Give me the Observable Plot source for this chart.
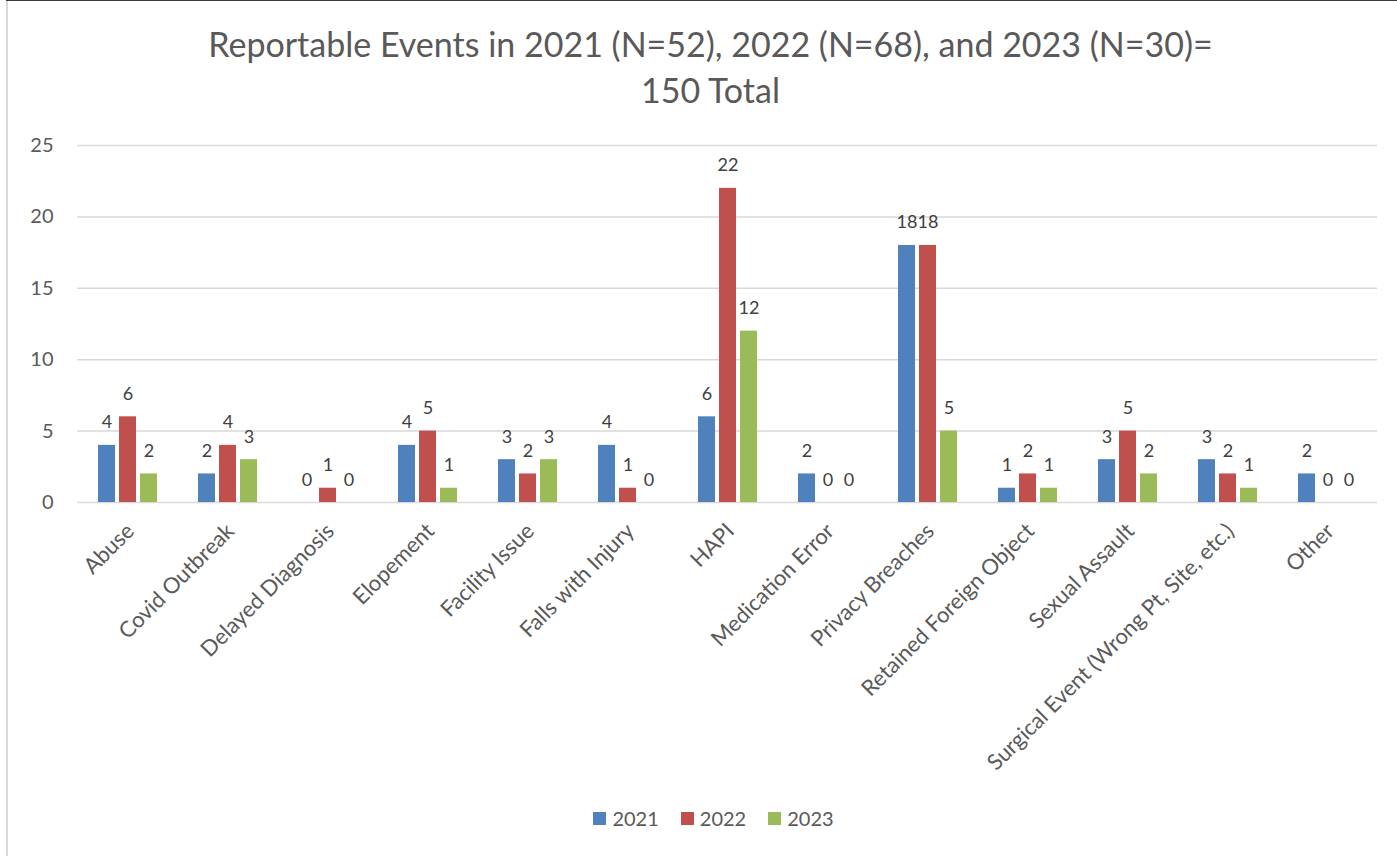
<!DOCTYPE html>
<html>
<head>
<meta charset="utf-8">
<script src="https://cdn.jsdelivr.net/npm/d3@7"></script>
<script src="https://cdn.jsdelivr.net/npm/@observablehq/plot@0.6"></script>
<style>
  html, body { margin: 0; padding: 0; background: #fff; }
  #wrap { position: relative; width: 1397px; height: 856px; overflow: hidden; font-family: Lato, "Open Sans", sans-serif; }
  #leftline { position: absolute; left: 6px; top: 0; width: 2px; height: 856px; background: #d9d9d9; }
  #topline { position: absolute; left: 6px; top: 0; right: 0; height: 1px; background: #3a3a3a; }
  #title { position: absolute; left: 24px; right: 0; top: 21px; text-align: center; font-size: 34px; line-height: 46px; color: #595959; }
  #chart { position: absolute; left: 0; top: 120px; }
  #legend { position: absolute; left: 30px; right: 0; top: 806px; display: flex; justify-content: center; align-items: center; font-size: 20px; color: #595959; }
  .item { display: flex; align-items: center; margin: 0 11px; }
  .sw { width: 13px; height: 13px; margin-right: 6px; }
</style>
</head>
<body>
<div id="wrap">
  <div id="leftline"></div>
  <div id="topline"></div>
  <div id="title"></div>
  <div id="chart"></div>
  <div id="legend"></div>
</div>
<script>
const titleLines = ["Reportable Events in 2021 (N=52), 2022 (N=68), and 2023 (N=30)=", "150 Total"];
const categories = ["Abuse", "Covid Outbreak", "Delayed Diagnosis", "Elopement", "Facility Issue", "Falls with Injury", "HAPI", "Medication Error", "Privacy Breaches", "Retained Foreign Object", "Sexual Assault", "Surgical Event (Wrong Pt, Site, etc.)", "Other"];
const years = ["2021", "2022", "2023"];
const v2021 = [4, 2, 0, 4, 3, 4, 6, 2, 18, 1, 3, 3, 2];
const v2022 = [6, 4, 1, 5, 2, 1, 22, 0, 18, 2, 5, 2, 0];
const v2023 = [2, 3, 0, 1, 3, 0, 12, 0, 5, 1, 2, 1, 0];
const colors = ["#4F81BD", "#C0504D", "#9BBB59"];
const yTicks = [0, 5, 10, 15, 20, 25];

const series = [v2021, v2022, v2023];
const data = [];
categories.forEach((c, i) => {
  years.forEach((y, j) => data.push({cat: c, year: y, value: series[j][i]}));
});

document.getElementById("title").innerHTML = titleLines.map(t => `<div>${t}</div>`).join("");

const chart = Plot.plot({
  width: 1397,
  height: 670,
  marginTop: 25,
  marginBottom: 288,
  marginLeft: 71,
  marginRight: 14,
  style: {fontFamily: "Lato, 'Open Sans', sans-serif", fontSize: "17px", color: "#595959", background: "transparent"},
  fx: {domain: categories, padding: 0, label: null, axis: null},
  x: {domain: years, paddingInner: 0.2, paddingOuter: 0.89, axis: null},
  y: {domain: [0, 25], ticks: yTicks, label: null, axis: null},
  color: {domain: years, range: colors},
  marks: [
    Plot.gridY(yTicks, {stroke: "#d9d9d9", strokeOpacity: 1, strokeWidth: 1.5}),
    Plot.axisY(yTicks, {tickSize: 0, tickPadding: 24, fontSize: 20, fill: "#595959", label: null}),
    Plot.axisFx({anchor: "bottom", tickSize: 0, tickRotate: -45, tickPadding: 10, textAnchor: "end", fontSize: 22, fill: "#595959", label: null, dx: 3, dy: 15}),
    Plot.barY(data, {fx: "cat", x: "year", y: "value", fill: "year"}),
    Plot.text(data, {fx: "cat", x: "year", y: "value", text: d => String(d.value), dy: -17, lineAnchor: "bottom", fontSize: 18, fill: "#404040"})
  ]
});
document.getElementById("chart").appendChild(chart);

const legend = document.getElementById("legend");
years.forEach((y, i) => {
  const item = document.createElement("div");
  item.className = "item";
  item.innerHTML = `<div class="sw" style="background:${colors[i]}"></div><span>${y}</span>`;
  legend.appendChild(item);
});
</script>
</body>
</html>
